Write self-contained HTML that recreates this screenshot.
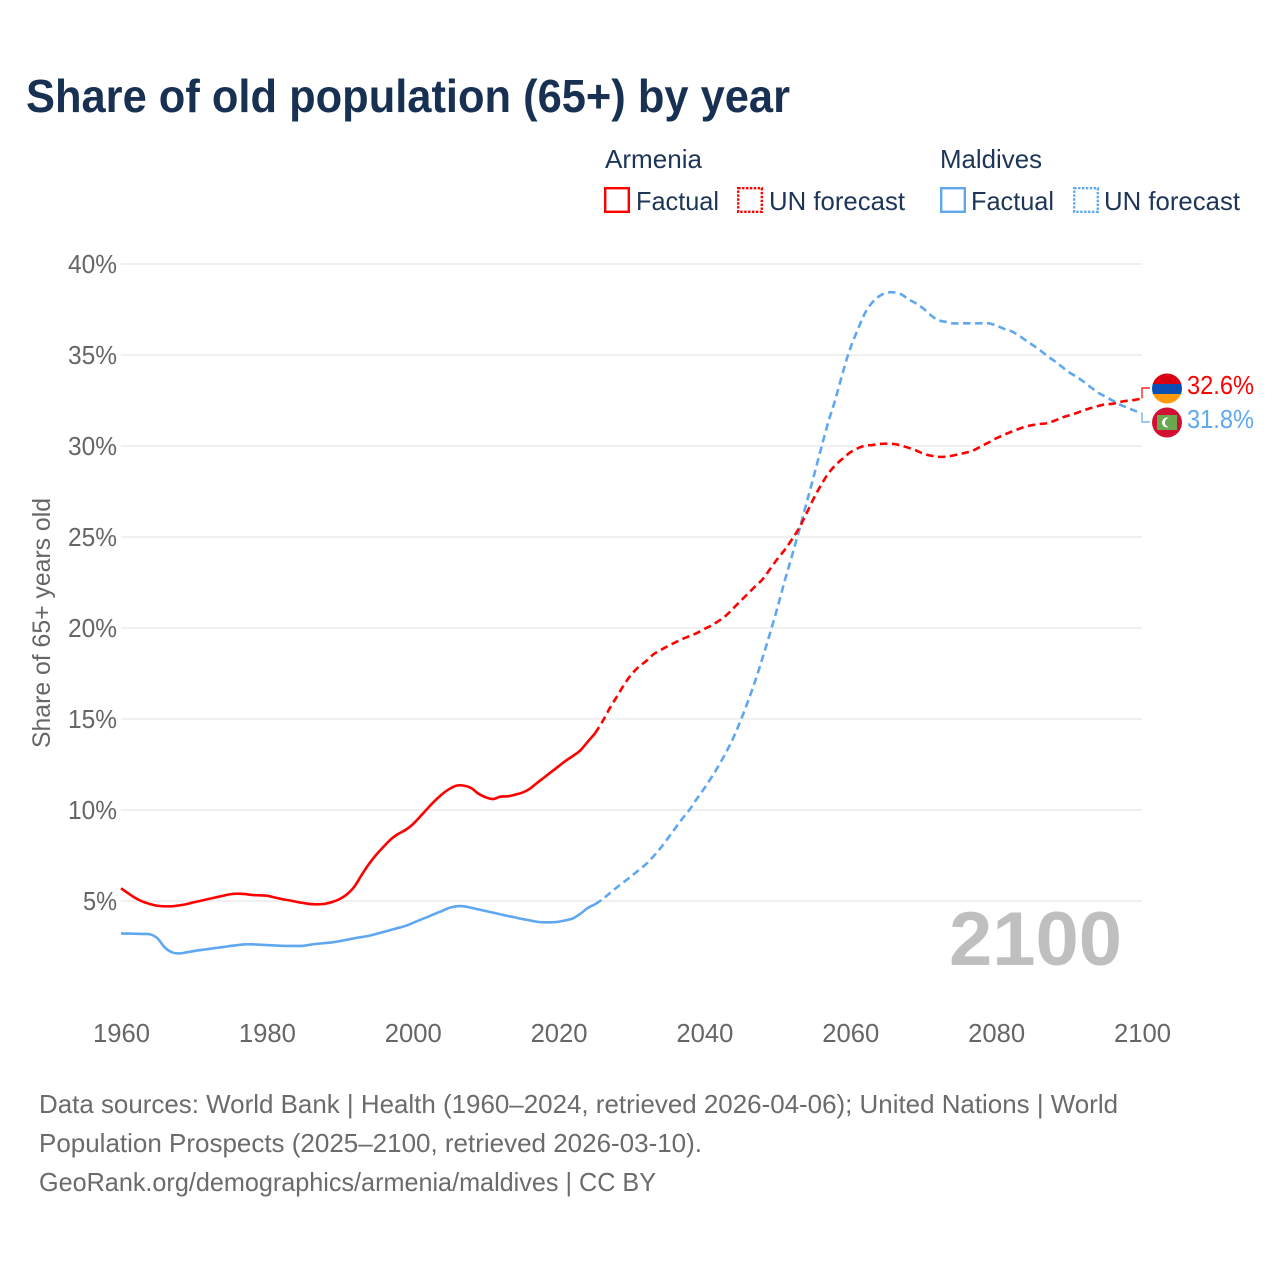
<!DOCTYPE html>
<html lang="en">
<head>
<meta charset="utf-8">
<title>Share of old population (65+) by year</title>
<style>
html,body{margin:0;padding:0;background:#fff;}
svg{display:block;}
text{font-family:"Liberation Sans",sans-serif;}
</style>
</head>
<body>
<svg id="chart" xmlns="http://www.w3.org/2000/svg" width="1280" height="1280" viewBox="0 0 1280 1280">
  <rect width="1280" height="1280" fill="#fff"/>
  <text x="26" y="112" font-size="46" font-weight="700" fill="#183153" textLength="764" lengthAdjust="spacingAndGlyphs">Share of old population (65+) by year</text>

  <g font-size="26" fill="#1d3557">
    <text x="605" y="168" textLength="97" lengthAdjust="spacingAndGlyphs">Armenia</text>
    <text x="940" y="168" textLength="102" lengthAdjust="spacingAndGlyphs">Maldives</text>
    <rect x="605.2" y="188.2" width="23.6" height="23.6" fill="none" stroke="#ff0000" stroke-width="2.4"/>
    <text x="636" y="210" textLength="83" lengthAdjust="spacingAndGlyphs">Factual</text>
    <rect x="738.2" y="188.2" width="23.6" height="23.6" fill="none" stroke="#ff0000" stroke-width="2.4" stroke-dasharray="2.4 1.5"/>
    <text x="769" y="210" textLength="136" lengthAdjust="spacingAndGlyphs">UN forecast</text>
    <rect x="941.2" y="188.2" width="23.6" height="23.6" fill="none" stroke="#5fa8ef" stroke-width="2.4"/>
    <text x="971" y="210" textLength="83" lengthAdjust="spacingAndGlyphs">Factual</text>
    <rect x="1074.2" y="188.2" width="23.6" height="23.6" fill="none" stroke="#5fa8ef" stroke-width="2.4" stroke-dasharray="2.4 1.5"/>
    <text x="1104" y="210" textLength="136" lengthAdjust="spacingAndGlyphs">UN forecast</text>
  </g>

  <g id="grid"></g>
  <g id="yticks" font-size="26" fill="#666"></g>
  <g id="xticks" font-size="26" fill="#666"></g>
  <text transform="translate(50,748) rotate(-90)" font-size="25" fill="#666" textLength="250" lengthAdjust="spacingAndGlyphs">Share of 65+ years old</text>

  <text x="949" y="965" font-size="76" font-weight="700" fill="#bfbfbf" textLength="173" lengthAdjust="spacingAndGlyphs">2100</text>

  <g id="series"></g>

  <g id="ends"></g>

  <g font-size="26" fill="#6b6b6b">
    <text x="39" y="1113" textLength="1079" lengthAdjust="spacingAndGlyphs">Data sources: World Bank | Health (1960–2024, retrieved 2026-04-06); United Nations | World</text>
    <text x="39" y="1152" textLength="663" lengthAdjust="spacingAndGlyphs">Population Prospects (2025–2100, retrieved 2026-03-10).</text>
    <text x="39" y="1191" textLength="617" lengthAdjust="spacingAndGlyphs">GeoRank.org/demographics/armenia/maldives | CC BY</text>
  </g>
</svg>
<script>
const yTickValues = [5, 10, 15, 20, 25, 30, 35, 40];
const xTickValues = [1960, 1980, 2000, 2020, 2040, 2060, 2080, 2100];
const firstYear = 1960;
const lastFactualYear = 2025;
const armeniaFactual = [
  5.70,5.42,5.16,4.96,4.83,4.74,4.71,4.71,4.76,4.83,
  4.93,5.02,5.11,5.20,5.29,5.37,5.40,5.38,5.33,5.31,
  5.29,5.20,5.11,5.04,4.96,4.89,4.83,4.82,4.85,4.95,
  5.11,5.37,5.79,6.43,7.03,7.54,7.98,8.39,8.68,8.90,
  9.21,9.63,10.07,10.49,10.86,11.15,11.34,11.34,11.21,10.90,
  10.70,10.60,10.73,10.75,10.84,10.95,11.15,11.47,11.78,12.09,
  12.40,12.71,12.98,13.28,13.75,14.21
];
const armeniaForecast = [
  14.85,15.58,16.23,16.90,17.45,17.87,18.18,18.55,18.79,19.01,19.21,19.40,19.56,19.73,19.95,
  20.15,20.40,20.70,21.10,21.50,21.90,22.30,22.69,23.24,23.79,24.29,24.87,25.50,26.30,27.13,
  27.86,28.50,28.96,29.32,29.65,29.87,30.02,30.05,30.11,30.13,30.11,30.02,29.90,29.76,29.58,
  29.47,29.41,29.41,29.47,29.56,29.65,29.78,30.00,30.20,30.42,30.60,30.77,30.92,31.06,31.15,
  31.21,31.25,31.39,31.56,31.68,31.81,31.96,32.09,32.20,32.29,32.32,32.42,32.49,32.53,32.62
];
const maldivesFactual = [
  3.22,3.21,3.20,3.19,3.17,2.95,2.45,2.18,2.12,2.18,
  2.25,2.31,2.36,2.42,2.47,2.53,2.58,2.62,2.62,2.60,
  2.58,2.56,2.54,2.53,2.53,2.54,2.60,2.65,2.69,2.73,
  2.80,2.87,2.95,3.02,3.09,3.19,3.30,3.41,3.52,3.63,
  3.79,3.96,4.12,4.29,4.45,4.62,4.71,4.71,4.63,4.54,
  4.45,4.36,4.27,4.18,4.10,4.01,3.94,3.86,3.83,3.83,
  3.86,3.94,4.05,4.30,4.62,4.82
];
const maldivesForecast = [
  5.09,5.42,5.75,6.06,6.37,6.70,7.03,7.45,7.92,8.45,9.00,9.54,10.04,10.64,11.20,
  11.81,12.47,13.19,14.00,14.95,16.00,17.14,18.40,19.72,21.10,22.58,23.96,25.38,26.87,28.35,
  29.87,31.34,32.62,34.08,35.37,36.37,37.29,37.88,38.24,38.42,38.44,38.33,38.06,37.84,37.56,
  37.20,36.92,36.83,36.74,36.74,36.74,36.74,36.74,36.74,36.62,36.45,36.32,36.10,35.82,35.55,
  35.27,34.95,34.67,34.36,34.05,33.81,33.53,33.22,32.93,32.71,32.49,32.27,32.10,31.94,31.80
];
const endValues = [32.6, 31.8];

const NS = 'http://www.w3.org/2000/svg';
const xScale = year => 121 + (year - 1960) * (1142 - 121) / 140;
const yScale = value => 992 - value * 18.2;

function make(tag, parent, attrs) {
  const el = document.createElementNS(NS, tag);
  for (const k in attrs) el.setAttribute(k, attrs[k]);
  parent.appendChild(el);
  return el;
}

const gridGroup = document.getElementById('grid');
const yGroup = document.getElementById('yticks');
const xGroup = document.getElementById('xticks');
const seriesGroup = document.getElementById('series');
const endGroup = document.getElementById('ends');

yTickValues.forEach(v => {
  const line = make('line', gridGroup, {x1: xScale(1960), x2: xScale(2100), y1: yScale(v), y2: yScale(v), stroke: '#e8e8e8', 'stroke-width': 1.3});
  
  
  const text = v + '%';
  const label = make('text', yGroup, {x: 117, y: yScale(v) + 9, 'text-anchor': 'end', textLength: text.length === 2 ? 34 : 49, lengthAdjust: 'spacingAndGlyphs'});
  
  
  label.textContent = text;
});

xTickValues.forEach(t => {
  const label = make('text', xGroup, {x: xScale(t) + 0.5, y: 1042, 'text-anchor': 'middle', textLength: 57, lengthAdjust: 'spacingAndGlyphs'});
  
  
  label.textContent = t;
});

function linePath(values, startYear) {
  const pts = values.map((v, i) => [xScale(startYear + i), yScale(v)]);
  let d = 'M' + pts[0][0].toFixed(2) + ' ' + pts[0][1].toFixed(2);
  for (let i = 0; i < pts.length - 1; i++) {
    const p0 = pts[Math.max(i - 1, 0)];
    const p1 = pts[i];
    const p2 = pts[i + 1];
    const p3 = pts[Math.min(i + 2, pts.length - 1)];
    const c1x = p1[0] + (p2[0] - p0[0]) / 6;
    const c1y = p1[1] + (p2[1] - p0[1]) / 6;
    const c2x = p2[0] - (p3[0] - p1[0]) / 6;
    const c2y = p2[1] - (p3[1] - p1[1]) / 6;
    d += ' C' + c1x.toFixed(2) + ' ' + c1y.toFixed(2) + ' ' + c2x.toFixed(2) + ' ' + c2y.toFixed(2) + ' ' + p2[0].toFixed(2) + ' ' + p2[1].toFixed(2);
  }
  return d;
}

function drawSeries(values, startYear, color, dashed, name) {
  const path = make('path', seriesGroup, {
    d: linePath(values, startYear), fill: 'none', stroke: color, 'stroke-width': 2.6,
    'stroke-linejoin': 'round'
  });
  if (dashed) path.setAttribute('stroke-dasharray', '7.5 4.5');
  
  
}

const RED = '#ff0000';
const BLUE = '#5fa8ef';
drawSeries(maldivesFactual, firstYear, BLUE, false, 'maldives-factual-line');
drawSeries([maldivesFactual[maldivesFactual.length - 1]].concat(maldivesForecast), lastFactualYear, BLUE, true, 'maldives-forecast-line');
drawSeries(armeniaFactual, firstYear, RED, false, 'armenia-factual-line');
drawSeries([armeniaFactual[armeniaFactual.length - 1]].concat(armeniaForecast), lastFactualYear, RED, true, 'armenia-forecast-line');

/* End-of-line connectors, flags, value labels */
const armeniaLast = armeniaForecast[armeniaForecast.length - 1];
const maldivesLast = maldivesForecast[maldivesForecast.length - 1];
const xEnd = xScale(2100);

const redConnector = make('path', endGroup, {d: 'M' + xEnd + ' ' + yScale(armeniaLast) + ' V388 H1150', fill: 'none', stroke: RED, 'stroke-width': 1.2});


const blueConnector = make('path', endGroup, {d: 'M' + xEnd + ' ' + yScale(maldivesLast) + ' V422 H1150', fill: 'none', stroke: BLUE, 'stroke-width': 1.2});



const defs = make('defs', endGroup, {});
const cpA = make('clipPath', defs, {id: 'flagA'});
make('circle', cpA, {cx: 1167, cy: 388.5, r: 15});
const cpM = make('clipPath', defs, {id: 'flagM'});
make('circle', cpM, {cx: 1167, cy: 422.5, r: 15});

const flagA = make('g', endGroup, {'clip-path': 'url(#flagA)'});


make('rect', flagA, {x: 1152, y: 373, width: 30, height: 11, fill: '#d90012'});
make('rect', flagA, {x: 1152, y: 384, width: 30, height: 10, fill: '#0b4fb3'});
make('rect', flagA, {x: 1152, y: 394, width: 30, height: 10, fill: '#ff9a0f'});

const flagM = make('g', endGroup, {'clip-path': 'url(#flagM)'});


make('rect', flagM, {x: 1152, y: 407, width: 30, height: 31, fill: '#d21034'});
make('rect', flagM, {x: 1157, y: 415, width: 20, height: 15, fill: '#6aa84f'});
make('circle', flagM, {cx: 1167, cy: 422.5, r: 5, fill: '#fff'});
make('circle', flagM, {cx: 1169.5, cy: 422.5, r: 4.6, fill: '#6aa84f'});

const redLabel = make('text', endGroup, {x: 1187, y: 394, 'font-size': 26, fill: RED, textLength: 67, lengthAdjust: 'spacingAndGlyphs'});


redLabel.textContent = endValues[0].toFixed(1) + '%';
const blueLabel = make('text', endGroup, {x: 1187, y: 428, 'font-size': 26, fill: BLUE, textLength: 67, lengthAdjust: 'spacingAndGlyphs'});


blueLabel.textContent = endValues[1].toFixed(1) + '%';
</script>
</body>
</html>
